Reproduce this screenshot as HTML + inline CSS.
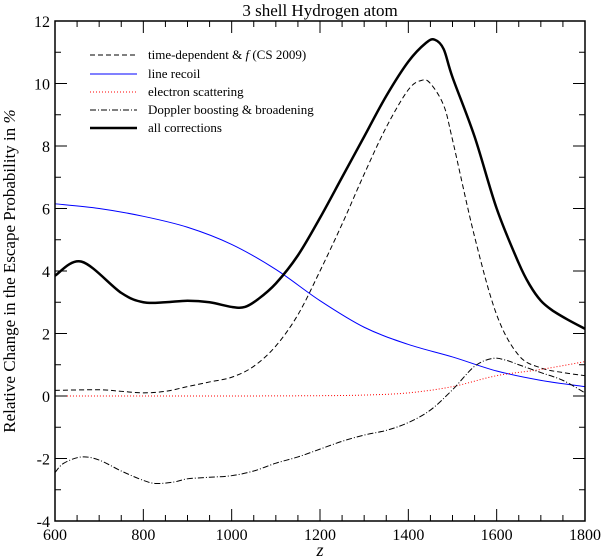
<!DOCTYPE html>
<html><head><meta charset="utf-8"><style>
body{margin:0;background:#fff}
svg{display:block;font-family:"Liberation Serif",serif}
</style></head><body>
<svg id="chart" width="601" height="560" xmlns="http://www.w3.org/2000/svg">
<text x="320" y="16" font-size="17" text-anchor="middle">3 shell Hydrogen atom</text>
<g id="series"></g>
<g id="axes"></g>
<text x="320" y="556" font-size="18" font-style="italic" text-anchor="middle">z</text>
<text transform="translate(15,271) rotate(-90)" font-size="17" text-anchor="middle">Relative Change in the Escape Probability in <tspan font-style="italic">%</tspan></text>
<g font-size="13">
<line x1="90" y1="55" x2="137" y2="55" stroke="#000" stroke-dasharray="5,3"/><text x="148" y="59">time-dependent &amp; <tspan font-style="italic">f</tspan> (CS 2009)</text>
<line x1="90" y1="74" x2="137" y2="74" stroke="#00f"/><text x="148" y="78">line recoil</text>
<line x1="90" y1="92" x2="137" y2="92" stroke="#f00" stroke-dasharray="1,2"/><text x="148" y="96">electron scattering</text>
<line x1="90" y1="110" x2="137" y2="110" stroke="#000" stroke-dasharray="6,2,1,2"/><text x="148" y="114">Doppler boosting &amp; broadening</text>
<line x1="90" y1="128" x2="137" y2="128" stroke="#000" stroke-width="2.5"/><text x="148" y="132">all corrections</text>
</g>
</svg>
<script>
const xTicks=[600,800,1000,1200,1400,1600,1800];
const yTicks=[-4,-2,0,2,4,6,8,10,12];
const allZ=[600,660,750,800,850,900,950,1000,1030,1060,1100,1150,1200,1250,1300,1350,1400,1440,1460,1480,1500,1550,1600,1650,1675,1700,1725,1760,1800];
const allV=[3.85,4.3,3.3,3.0,3.0,3.05,3.0,2.85,2.85,3.1,3.6,4.5,5.7,7.0,8.3,9.6,10.7,11.3,11.4,11.1,10.2,8.3,6.0,4.25,3.55,3.05,2.75,2.45,2.15];
const tdZ=[600,700,750,800,850,900,950,1000,1050,1100,1150,1200,1250,1300,1350,1400,1430,1450,1480,1500,1550,1600,1650,1700,1750,1800];
const tdV=[0.18,0.2,0.15,0.1,0.15,0.3,0.45,0.6,0.95,1.6,2.6,4.0,5.5,7.1,8.6,9.8,10.1,10.0,9.3,8.2,5.1,2.6,1.3,0.9,0.75,0.65];
const lrZ=[600,700,800,900,1000,1100,1200,1300,1400,1500,1600,1700,1800];
const lrV=[6.15,6.0,5.75,5.4,4.85,4.05,3.05,2.2,1.65,1.25,0.8,0.5,0.3];
const esZ=[600,800,1000,1200,1300,1400,1500,1600,1700,1800];
const esV=[0,0,0,0.01,0.03,0.1,0.3,0.65,0.85,1.1];
const dpZ=[600,620,660,700,750,800,830,870,900,950,1000,1050,1100,1150,1200,1250,1300,1350,1400,1450,1500,1550,1590,1620,1650,1700,1750,1800];
const dpV=[-2.45,-2.15,-1.95,-2.05,-2.4,-2.7,-2.8,-2.75,-2.65,-2.6,-2.55,-2.4,-2.15,-1.95,-1.7,-1.45,-1.25,-1.1,-0.85,-0.45,0.2,0.95,1.2,1.15,1.0,0.75,0.5,0.1];
const X0=55,X1=585,Y0=521,Y1=21;
const sx=z=>X0+(z-600)/1200*(X1-X0);
const sy=v=>Y0-(v+4)/16*(Y0-Y1);
const NS="http://www.w3.org/2000/svg";
function path(zs,vs){const p=zs.map((z,i)=>[sx(z),sy(vs[i])]);let d="M"+p[0].join(",");
for(let i=0;i<p.length-1;i++){const a=p[i-1]||p[i],b=p[i],c=p[i+1],e=p[i+2]||c;
d+=` C${b[0]+(c[0]-a[0])/6},${b[1]+(c[1]-a[1])/6} ${c[0]-(e[0]-b[0])/6},${c[1]-(e[1]-b[1])/6} ${c[0]},${c[1]}`;}return d;}
const S=document.getElementById("series");
function add(name,zs,vs,stroke,w,dash){const el=document.createElementNS(NS,"path");


el.setAttribute("d",path(zs,vs));el.setAttribute("fill","none");el.setAttribute("stroke",stroke);el.setAttribute("stroke-width",w);if(dash)el.setAttribute("stroke-dasharray",dash);S.appendChild(el);}
add("time-dependent-line",tdZ,tdV,"#000",1,"5,3");
add("line-recoil-line",lrZ,lrV,"#00f",1,null);
add("electron-scattering-line",esZ,esV,"#f00",1,"1,2");
add("doppler-line",dpZ,dpV,"#000",1,"6,2,1,2");
add("all-corrections-line",allZ,allV,"#000",2.5,null);
const A=document.getElementById("axes");let h=`<rect x="${X0}" y="${Y1}" width="${X1-X0}" height="${Y0-Y1}" fill="none" stroke="#000" stroke-width="1.5"/>`;
for(let z=600;z<=1800;z+=50){const x=sx(z),L=z%200==0?12:6;h+=`<line x1="${x}" y1="${Y0}" x2="${x}" y2="${Y0-L}" stroke="#000"/><line x1="${x}" y1="${Y1}" x2="${x}" y2="${Y1+L}" stroke="#000"/>`;}
for(let v=-4;v<=12;v+=1){const y=sy(v),L=v%2==0?12:6;h+=`<line x1="${X0}" y1="${y}" x2="${X0+L}" y2="${y}" stroke="#000"/><line x1="${X1}" y1="${y}" x2="${X1-L}" y2="${y}" stroke="#000"/>`;}
A.innerHTML=h;
xTicks.forEach(t=>{const el=document.createElementNS(NS,"text");


el.setAttribute("x",sx(t));el.setAttribute("y",Y0+19);el.setAttribute("font-size","16");el.setAttribute("text-anchor","middle");el.textContent=t;A.appendChild(el);});
yTicks.forEach(t=>{const el=document.createElementNS(NS,"text");


el.setAttribute("x",X0-5);el.setAttribute("y",sy(t)+6);el.setAttribute("font-size","16");el.setAttribute("text-anchor","end");el.textContent=t;A.appendChild(el);});
</script>
</body></html>
